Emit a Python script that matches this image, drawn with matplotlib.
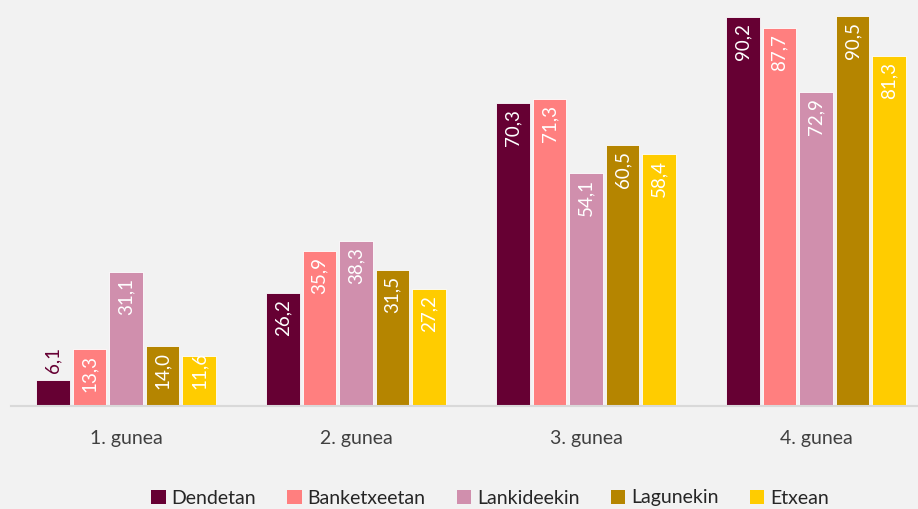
import numpy as np
import matplotlib
matplotlib.use("Agg")
import matplotlib.pyplot as plt

# --- DATA ---
categories = ["1. gunea", "2. gunea", "3. gunea", "4. gunea"]
series_names = ["Dendetan", "Banketxeetan", "Lankideekin", "Lagunekin", "Etxean"]
dendetan = [6.1, 26.2, 70.3, 90.2]
banketxeetan = [13.3, 35.9, 71.3, 87.7]
lankideekin = [31.1, 38.3, 54.1, 72.9]
lagunekin = [14.0, 31.5, 60.5, 90.5]
etxean = [11.6, 27.2, 58.4, 81.3]
colors = ["#660033", "#FF7F7F", "#D08FAD", "#B58500", "#FFCC00"]

values = [dendetan, banketxeetan, lankideekin, lagunekin, etxean]

plt.rcParams['font.family'] = ['Lato', 'DejaVu Sans']

fig = plt.figure(figsize=(9.18, 5.09), dpi=100)
fig.patch.set_facecolor("#f2f2f2")
# axes extends a bit past the right edge, like the cropped original
ax = fig.add_axes([11 / 918, 1 - 406 / 509, 920 / 918, 406 / 509])
ax.set_facecolor("#f2f2f2")

x = np.arange(len(categories))
bar_w = 0.1435
step = 0.1587
ymax = 94.2

for i, (name, vals, col) in enumerate(zip(series_names, values, colors)):
    pos = x + (i - 2) * step
    ax.bar(pos, vals, width=bar_w, color=col, edgecolor="white", linewidth=0.6,
           label=name, zorder=2)
    for xp, v in zip(pos, vals):
        lab = f"{v:.1f}".replace(".", ",")
        if v < 8:
            ax.text(xp, v + 1.5, lab, rotation=90, ha="center", va="bottom",
                    color=col, fontsize=13.5, zorder=3)
        elif v - 1.4 - 7.7 < 4.2:
            ax.text(xp, 4.0, lab, rotation=90, ha="center", va="bottom",
                    color="white", fontsize=13.5, zorder=3)
        else:
            ax.text(xp, v - 1.4, lab, rotation=90, ha="center", va="top",
                    color="white", fontsize=13.5, zorder=3)

ax.set_xlim(-0.5, 3.5)
ax.set_ylim(0, ymax)
ax.set_xticks(x)
ax.set_xticklabels(categories, fontsize=14, color="#404040")
ax.tick_params(axis="x", length=0, pad=17)
ax.set_yticks([])
for s in ["top", "right", "left"]:
    ax.spines[s].set_visible(False)
ax.spines["bottom"].set_color("#d9d9d9")
ax.spines["bottom"].set_linewidth(1.5)

handles, labels = ax.get_legend_handles_labels()
leg = fig.legend(handles, labels, loc="center", bbox_to_anchor=(490 / 918, 11 / 509),
                 ncol=5, frameon=False, fontsize=14, handlelength=0.75, handleheight=0.75,
                 handletextpad=0.3, columnspacing=1.6, labelcolor="#262626")
for h in leg.legend_handles:
    h.set_linewidth(0)

fig.savefig("out.png", dpi=100, facecolor=fig.get_facecolor())
